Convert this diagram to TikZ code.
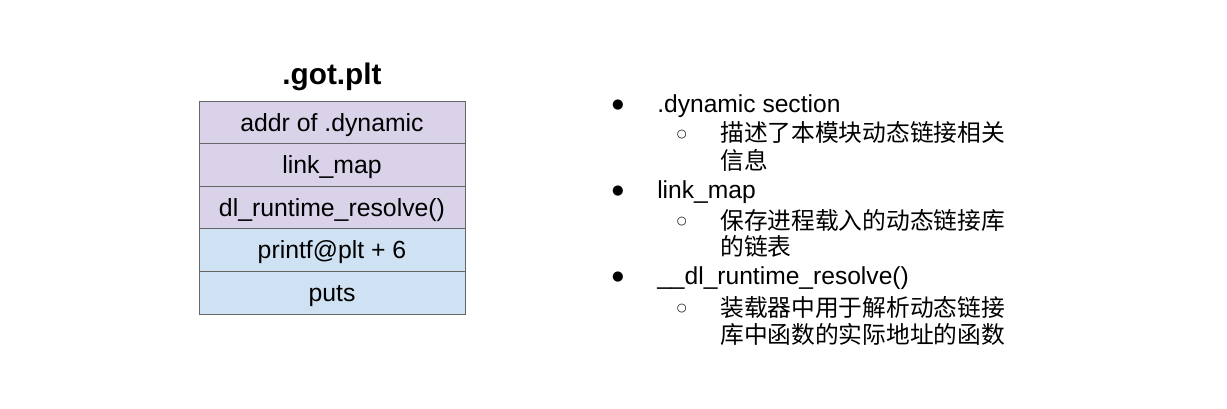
\documentclass[tikz,border=0pt]{standalone}
\usepackage{fontspec}
\setmainfont{Liberation Sans}
\newfontfamily\cjk{Noto Sans CJK SC}[Scale=0.965]
\newfontfamily\symfont{DejaVu Sans}
\usetikzlibrary{positioning}
\definecolor{gotpurple}{HTML}{D9D2E9}
\definecolor{gotblue}{HTML}{CFE2F3}
\definecolor{gotline}{HTML}{666666}

\begin{document}
\begin{tikzpicture}[x=0.75pt,y=-0.75pt,
  cell/.style={draw=gotline,line width=0.75pt,minimum width=199.5pt,minimum height=31.95pt,
    inner sep=0pt,outer sep=0pt,text height=13.3pt,text depth=0pt,font=\fontsize{18.6}{22}\selectfont},
  item/.style={anchor=base west,inner sep=0pt,font=\fontsize{18.45}{22}\selectfont},
  subitem/.style={anchor=base west,inner sep=0pt,font=\cjk\fontsize{18.45}{22}\selectfont},
  dot/.style={inner sep=0pt,font=\symfont\fontsize{10}{12}\selectfont},
  circ/.style={inner sep=0pt,font=\symfont\fontsize{8.5}{10}\selectfont}]
\useasboundingbox (0,0) rectangle (1227,408);
% .got.plt table
\node[anchor=base,inner sep=0pt,font=\bfseries\fontsize{22.3}{26}\selectfont] (title) at (332,84) {.got.plt};
\node[cell,fill=gotpurple] (dynaddr) at (332,122.3) {addr of .dynamic};
\node[cell,fill=gotpurple,below=0pt of dynaddr] (linkmap) {link\_map};
\node[cell,fill=gotpurple,below=0pt of linkmap] (resolver) {dl\_runtime\_resolve()};
\node[cell,fill=gotblue,below=0pt of resolver] (printfgot) {printf@plt + 6};
\node[cell,fill=gotblue,below=0pt of printfgot] (putsgot) {puts};
% notes
\node[dot] (b1) at (618,105) {●};
\node[item] (i1) at (657,112) {.dynamic section};
\node[circ] (c1) at (681.7,134.5) {○};
\node[subitem] (s1a) at (720,141.5) {描述了本模块动态链接相关};
\node[subitem] (s1b) at (720,169) {信息};
\node[dot] (b2) at (618,191) {●};
\node[item] (i2) at (657,198) {link\_map};
\node[circ] (c2) at (681.7,222) {○};
\node[subitem] (s2a) at (720,229.5) {保存进程载入的动态链接库};
\node[subitem] (s2b) at (720,255) {的链表};
\node[dot] (b3) at (618,277) {●};
\node[item] (i3) at (657,284) {\_\_dl\_runtime\_resolve()};
\node[circ] (c3) at (681.7,309) {○};
\node[subitem] (s3a) at (720,316) {装载器中用于解析动态链接};
\node[subitem] (s3b) at (720,343.5) {库中函数的实际地址的函数};
\end{tikzpicture}
\end{document}
